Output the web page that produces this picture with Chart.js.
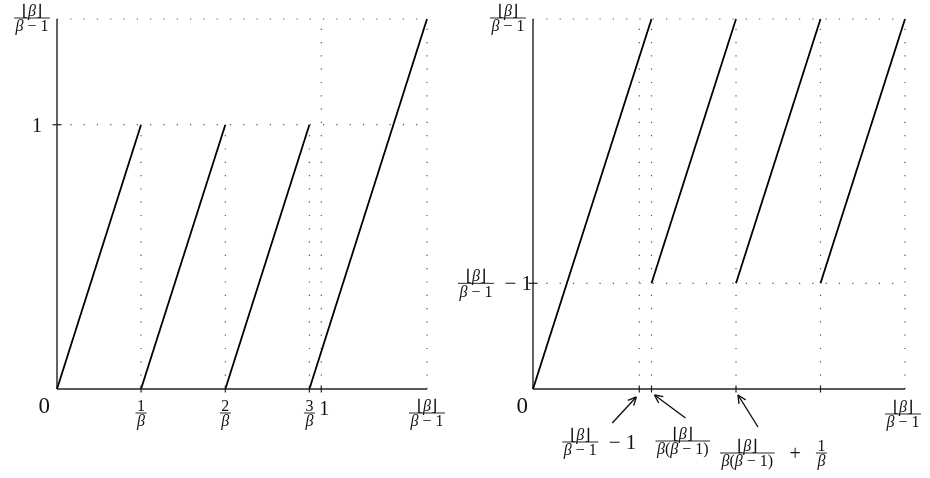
<!DOCTYPE html>
<html>
<head>
<meta charset="utf-8">
<script src="https://cdn.jsdelivr.net/npm/chart.js@4.4.0/dist/chart.umd.min.js"></script>
<style>
  body { margin: 0; background: #fff; width: 930px; height: 478px; overflow: hidden; position: relative; }
  canvas { position: absolute; top: 0; }
</style>
</head>
<body>
<canvas id="left" width="465" height="478" style="left:0"></canvas>
<canvas id="right" width="500" height="478" style="left:430px"></canvas>
<script>
// values (beta is about 3.14)
const fullRange = 1.40;   // ⌊β⌋/(β−1)
const lowLevel = 0.40;    // ⌊β⌋/(β−1) − 1

// left panel: branches of the map, each one a [start, end] pair
const leftSegments = [
  [[0, 0], [0.318, 1]],
  [[0.318, 0], [0.637, 1]],
  [[0.637, 0], [0.955, 1]],
  [[0.955, 0], [1.40, 1.40]]
];
const leftXTicks = [0.318, 0.637, 0.955, 1.0];
const leftYTicks = [1.0];
const leftGuides = [
  [[0, 1], [1.40, 1]],
  [[0, 1.40], [1.40, 1.40]],
  [[0.318, 0], [0.318, 1]],
  [[0.637, 0], [0.637, 1]],
  [[0.955, 0], [0.955, 1]],
  [[1.0, 0], [1.0, 1.40]],
  [[1.40, 0], [1.40, 1.40]]
];

// right panel
const rightSegments = [
  [[0, 0], [0.446, 1.40]],
  [[0.446, 0.40], [0.764, 1.40]],
  [[0.764, 0.40], [1.082, 1.40]],
  [[1.082, 0.40], [1.40, 1.40]]
];
const rightXTicks = [0.40, 0.446, 0.764, 1.082];
const rightYTicks = [0.40];
const rightGuides = [
  [[0, 0.40], [1.40, 0.40]],
  [[0, 1.40], [1.40, 1.40]],
  [[0.40, 0], [0.40, 1.40]],
  [[0.446, 0], [0.446, 1.40]],
  [[0.764, 0], [0.764, 1.40]],
  [[1.082, 0], [1.082, 1.40]],
  [[1.40, 0], [1.40, 1.40]]
];

// label texts: a pair is a fraction, a plain string is set inline
const FB = ['⌊β⌋', 'β − 1'];
const FBB = ['⌊β⌋', 'β(β − 1)'];
const leftXLabels = [[['1', 'β']], [['2', 'β']], [['3', 'β']], ['1']];
const leftYLabels = [['1']];
const rightXLabels = [[FB, '  − 1'], [FBB], [FBB, '   +   ', ['1', 'β']]];
const rightYLabels = [[FB, '  − 1']];
const endLabel = [FB];
const zeroLabel = ['0'];

const SERIF = '"Liberation Serif", "DejaVu Serif", serif';
const FRAC_SIZE = 16;
const TEXT_SIZE = 21;

function fontFor(ch, size) {
  if (ch === '⌊' || ch === '⌋') return size + 'px "DejaVu Serif", serif';
  return (ch === 'β' ? 'italic ' : '') + size + 'px ' + SERIF;
}

function richWidth(ctx, str, size) {
  let w = 0;
  for (const ch of str) { ctx.font = fontFor(ch, size); w += ctx.measureText(ch).width; }
  return w;
}

function richDraw(ctx, str, x, base, size) {
  for (const ch of str) {
    ctx.font = fontFor(ch, size);
    ctx.fillText(ch, x, base);
    x += ctx.measureText(ch).width;
  }
}

function partWidth(ctx, p, size) {
  if (Array.isArray(p)) return Math.max(richWidth(ctx, p[0], FRAC_SIZE), richWidth(ctx, p[1], FRAC_SIZE)) + 3;
  return richWidth(ctx, p, size);
}

// draw a label whose math axis (fraction bar) sits at cy
function mathAt(ctx, parts, x, cy, align, size = TEXT_SIZE) {
  const total = parts.reduce((s, p) => s + partWidth(ctx, p, size), 0);
  let cx = align === 'center' ? x - total / 2 : align === 'right' ? x - total : x;
  ctx.textBaseline = 'alphabetic';
  ctx.textAlign = 'left';
  for (const p of parts) {
    const w = partWidth(ctx, p, size);
    if (Array.isArray(p)) {
      const wn = richWidth(ctx, p[0], FRAC_SIZE), wd = richWidth(ctx, p[1], FRAC_SIZE);
      richDraw(ctx, p[0], cx + (w - wn) / 2, cy - 2.5, FRAC_SIZE);
      richDraw(ctx, p[1], cx + (w - wd) / 2, cy + 2.5 + FRAC_SIZE * 0.68, FRAC_SIZE);
      ctx.fillRect(cx, cy - 0.45, w, 0.9);
    } else {
      richDraw(ctx, p, cx, cy + size * 0.33, size);
    }
    cx += w;
  }
}

function tickX(ctx, px, py) {
  ctx.beginPath(); ctx.moveTo(px, py - 3.5); ctx.lineTo(px, py + 3.5); ctx.stroke();
}
function tickY(ctx, px, py) {
  ctx.beginPath(); ctx.moveTo(px - 4.5, py); ctx.lineTo(px + 4.5, py); ctx.stroke();
}

function arrow(ctx, x1, y1, x2, y2) {
  ctx.beginPath(); ctx.moveTo(x1, y1); ctx.lineTo(x2, y2); ctx.stroke();
  const a = Math.atan2(y2 - y1, x2 - x1);
  ctx.beginPath();
  for (const s of [-0.45, 0.45]) {
    ctx.moveTo(x2, y2);
    ctx.lineTo(x2 - 9 * Math.cos(a + s), y2 - 9 * Math.sin(a + s));
  }
  ctx.stroke();
}

function decorateLeft(chart) {
  const ctx = chart.ctx, xs = chart.scales.x, ys = chart.scales.y;
  const x0 = xs.getPixelForValue(0), y0 = ys.getPixelForValue(0);
  ctx.save();
  ctx.strokeStyle = '#222'; ctx.lineWidth = 1.2; ctx.fillStyle = '#111';
  leftXTicks.forEach(v => tickX(ctx, xs.getPixelForValue(v), y0));
  leftYTicks.forEach(v => tickY(ctx, x0, ys.getPixelForValue(v)));
  leftXTicks.forEach((v, i) => {
    const big = typeof leftXLabels[i][0] === 'string';
    mathAt(ctx, leftXLabels[i], xs.getPixelForValue(v) + (big ? 3 : 0), y0 + (big ? 19 : 24), 'center', 20);
  });
  leftYTicks.forEach((v, i) => mathAt(ctx, leftYLabels[i], x0 - 15, ys.getPixelForValue(v) + 1, 'right', 20));
  mathAt(ctx, endLabel, xs.getPixelForValue(fullRange), y0 + 24, 'center');
  mathAt(ctx, endLabel, x0 - 7, ys.getPixelForValue(fullRange) - 1, 'right');
  mathAt(ctx, zeroLabel, x0 - 7, y0 + 16, 'right', 23);
  ctx.restore();
}

function decorateRight(chart) {
  const ctx = chart.ctx, xs = chart.scales.x, ys = chart.scales.y;
  const x0 = xs.getPixelForValue(0), y0 = ys.getPixelForValue(0);
  ctx.save();
  ctx.strokeStyle = '#222'; ctx.lineWidth = 1.2; ctx.fillStyle = '#111';
  rightXTicks.forEach(v => tickX(ctx, xs.getPixelForValue(v), y0));
  rightYTicks.forEach(v => tickY(ctx, x0, ys.getPixelForValue(v)));
  rightYTicks.forEach((v, i) => mathAt(ctx, rightYLabels[i], x0 - 1, ys.getPixelForValue(v), 'right'));
  mathAt(ctx, endLabel, xs.getPixelForValue(fullRange) - 2, y0 + 25, 'center');
  mathAt(ctx, endLabel, x0 - 7, ys.getPixelForValue(fullRange) - 1, 'right');
  mathAt(ctx, zeroLabel, x0 - 5, y0 + 16, 'right', 23);

  // labels below the axis, each with an arrow to its tick
  const place = [
    { dx: -77, dy: 53, tail: [-27, 34], tip: [-3, 8], size: 21 },
    { dx: 4, dy: 52, tail: [34, 29], tip: [3, 6], size: 21 },
    { dx: -16, dy: 64, tail: [22, 38], tip: [2, 6], size: 20 }
  ];
  ctx.lineWidth = 1.4; ctx.strokeStyle = '#111';
  rightXLabels.forEach((parts, i) => {
    const px = xs.getPixelForValue(rightXTicks[i]), p = place[i];
    mathAt(ctx, parts, px + p.dx, y0 + p.dy, 'left', p.size);
    arrow(ctx, px + p.tail[0], y0 + p.tail[1], px + p.tip[0], y0 + p.tip[1]);
  });
  ctx.restore();
}

function segDatasets(list, style) {
  return list.map(seg => ({ data: seg.map(([x, y]) => ({ x, y })), ...style }));
}

function build(id, segments, guides, padding, decorate) {
  const datasets = [
    ...segDatasets(segments, { borderColor: '#000', borderWidth: 1.8, order: 1 }),
    ...segDatasets([[[0, 0], [fullRange, 0]], [[0, 0], [0, fullRange]]], { borderColor: '#222', borderWidth: 1.4, order: 2 }),
    ...segDatasets(guides, { borderColor: '#555', borderWidth: 1.2, borderDash: [1.2, 12.1], order: 3 })
  ];
  return new Chart(document.getElementById(id), {
    type: 'scatter',
    data: { datasets: datasets.map(d => ({ showLine: true, pointRadius: 0, clip: false, fill: false, ...d })) },
    options: {
      responsive: false,
      animation: false,
      events: [],
      layout: { padding },
      plugins: { legend: { display: false }, tooltip: { enabled: false }, title: { display: false } },
      scales: {
        x: { type: 'linear', display: false, min: 0, max: fullRange },
        y: { type: 'linear', display: false, min: 0, max: fullRange }
      }
    },
    plugins: [{ id: 'decor', afterDraw: chart => decorate(chart) }]
  });
}

build('left', leftSegments, leftGuides, { left: 57, right: 38, top: 19, bottom: 89 }, decorateLeft);
build('right', rightSegments, rightGuides, { left: 103, right: 25, top: 19, bottom: 89 }, decorateRight);
</script>
</body>
</html>
